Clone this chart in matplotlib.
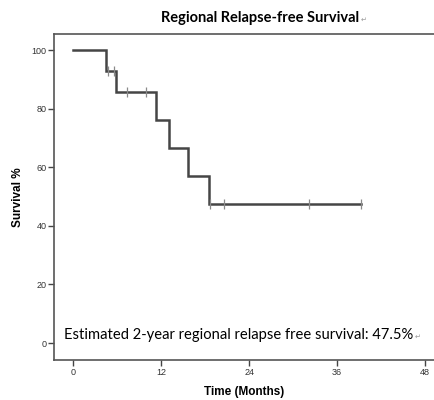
import matplotlib
matplotlib.use("Agg")
import matplotlib.pyplot as plt

# Kaplan-Meier step data (months, survival %)
event_times = [0, 4.5, 5.9, 11.3, 13.1, 15.6, 18.5]
survival = [100, 92.9, 85.7, 76.2, 66.7, 57.1, 47.6]
last_followup = 39.3

censor_times = [4.7, 5.6, 7.4, 9.9, 18.6, 20.6, 32.1, 39.3]
censor_surv = [92.9, 92.9, 85.7, 85.7, 47.6, 47.6, 47.6, 47.6]

x_ticks = [0, 12, 24, 36, 48]
y_ticks = [0, 20, 40, 60, 80, 100]

title = "Regional Relapse-free Survival"
note = "Estimated 2-year regional relapse free survival: 47.5%"

fig = plt.figure(figsize=(4.34, 4.0), dpi=100)
ax = fig.add_axes([54 / 434, 40 / 400, 1 - 54 / 434, 326 / 400])

# step curve
xs = event_times + [last_followup]
ys = survival + [survival[-1]]
ax.step(xs, ys, where="post", color="#454545", linewidth=1.8, solid_joinstyle="miter")
ax.plot(censor_times, censor_surv, linestyle="none", marker="|",
        markersize=7, markeredgewidth=0.9, color="#8a8a8a")

ax.set_xlim(-2.6, 49.2)
ax.set_ylim(-5.8, 105.5)
ax.set_xticks(x_ticks)
ax.set_yticks(y_ticks)

for s in ["left", "bottom", "top"]:
    ax.spines[s].set_color("#555555")
    ax.spines[s].set_linewidth(1.2)
ax.spines["right"].set_visible(False)

ax.tick_params(axis="both", direction="out", length=4, width=1, color="#444444",
               labelsize=6.5, labelcolor="#333333", pad=1.5)
for lbl in ax.get_xticklabels() + ax.get_yticklabels():
    lbl.set_family("Liberation Sans")

ax.set_xlabel("Time (Months)", fontsize=8.5, fontweight="bold",
              family="Liberation Sans", labelpad=7)
ax.set_ylabel("Survival %", fontsize=8.5, fontweight="bold",
              family="Liberation Sans", labelpad=5)

# title and note, each followed by a small paragraph mark
t1 = fig.text(0.6, 0.955, title, ha="center", va="center", fontsize=10.5,
              fontweight="bold", family="Lato")
t2 = fig.text(64 / 434, (400 - 335) / 400, note, ha="left", va="center",
              fontsize=10.6, family="Lato")

fig.canvas.draw()
r = fig.canvas.get_renderer()
inv = fig.transFigure.inverted()
for t in [t1, t2]:
    bb = t.get_window_extent(r)
    x0, y0 = inv.transform((bb.x1 + 1, bb.y0 + 2))
    fig.text(x0, y0, "\u21b5", fontsize=5, color="#999999",
             family=["DejaVu Sans"], ha="left", va="bottom")

fig.savefig("out.png", dpi=100, facecolor="white")
